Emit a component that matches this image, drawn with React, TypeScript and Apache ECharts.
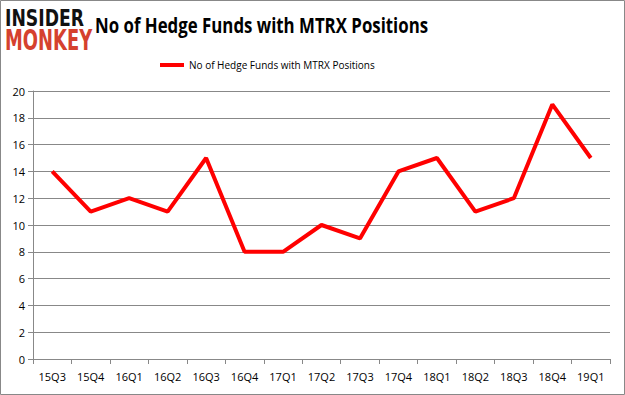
import React, { useEffect, useRef } from "react";
import * as echarts from "echarts";

const categories = ["15Q3", "15Q4", "16Q1", "16Q2", "16Q3", "16Q4", "17Q1", "17Q2", "17Q3", "17Q4", "18Q1", "18Q2", "18Q3", "18Q4", "19Q1"];
const funds = [14, 11, 12, 11, 15, 8, 8, 10, 9, 14, 15, 11, 12, 19, 15];
const seriesName = "No of Hedge Funds with MTRX Positions";
const titleText = "No of Hedge Funds with MTRX Positions";

export default function App() {
  const ref = useRef<HTMLDivElement>(null);
  useEffect(() => {
    const chart = echarts.init(ref.current!, null, { renderer: "svg" });
    chart.setOption({
      animation: false,
      backgroundColor: "#ffffff",
      legend: {
        top: 55,
        left: 155,
        itemWidth: 24,
        itemHeight: 4,
        itemGap: 3,
        icon: "rect",
        textStyle: { fontFamily: "Open Sans", fontSize: 10, color: "#000" },
        data: [seriesName],
      },
      grid: { left: 33, right: 15, top: 91, bottom: 36 },
      xAxis: {
        type: "category",
        data: categories,
        boundaryGap: true,
        axisLine: { lineStyle: { color: "#888" } },
        axisTick: { show: true, alignWithLabel: false, lineStyle: { color: "#888" }, length: 5 },
        axisLabel: { fontFamily: "Open Sans", fontSize: 11, color: "#000", margin: 12 },
      },
      yAxis: {
        type: "value",
        min: 0,
        max: 20,
        interval: 2,
        axisLine: { show: true, lineStyle: { color: "#888" } },
        axisTick: { show: true, length: 5, lineStyle: { color: "#888" } },
        splitLine: { lineStyle: { color: "#888" } },
        axisLabel: { fontFamily: "Open Sans", fontSize: 11, color: "#000", margin: 8 },
      },
      graphic: [
        {
          type: "rect",
          shape: { x: 0.5, y: 0.5, width: 624, height: 394 },
          style: { fill: "none", stroke: "#888", lineWidth: 1 },
        },
        {
          type: "text",
          x: 95,
          y: 14,
          scaleX: 0.765,
          style: { text: titleText, font: "bold 22px 'Open Sans'", fill: "#000", textVerticalAlign: "top" },
        },
        {
          type: "text",
          x: 5,
          y: 7,
          scaleX: 0.75,
          style: { text: "INSIDER", font: "900 23px 'DejaVu Sans'", fill: "#111", textVerticalAlign: "top" },
        },
        {
          type: "text",
          x: 5,
          y: 26,
          scaleX: 0.64,
          style: { text: "MONKEY", font: "900 28px 'DejaVu Sans'", fill: "#d5412e", textVerticalAlign: "top" },
        },
      ],
      series: [
        {
          name: seriesName,
          type: "line",
          data: funds,
          symbol: "none",
          lineStyle: { color: "#ff0000", width: 4 },
          itemStyle: { color: "#ff0000" },
        },
      ],
    });
    return () => chart.dispose();
  }, []);
  return <div ref={ref} style={{ position: "absolute", left: 0, top: 0, width: 625, height: 395 }} />;
}
